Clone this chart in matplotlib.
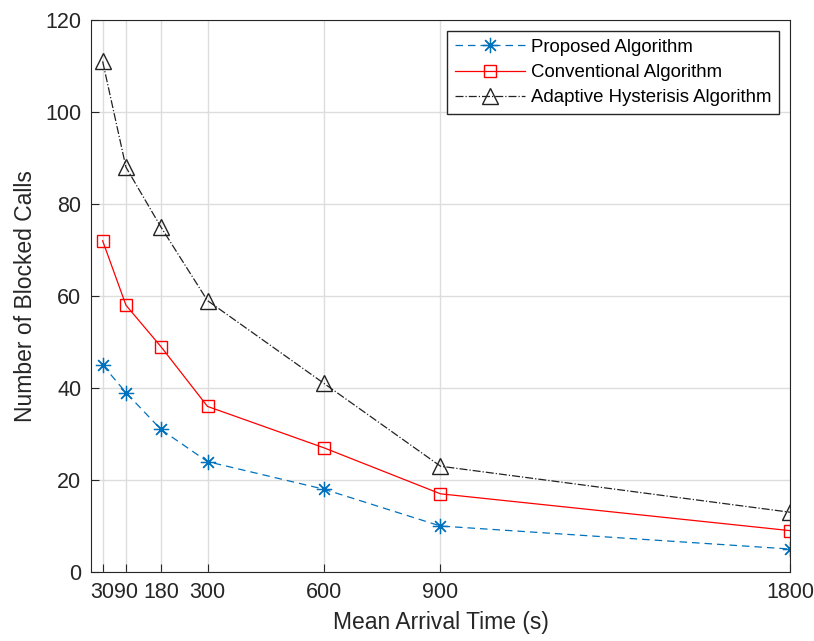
import matplotlib
matplotlib.use("Agg")
import matplotlib.pyplot as plt

plt.rcParams['font.family'] = ['Liberation Sans', 'DejaVu Sans']

arrival = [30, 90, 180, 300, 600, 900, 1800]
proposed = [45, 39, 31, 24, 18, 10, 5]
conventional = [72, 58, 49, 36, 27, 17, 9]
adaptive = [111, 88, 75, 59, 41, 23, 13]
yticks = [0, 20, 40, 60, 80, 100, 120]

fig = plt.figure(figsize=(8.14, 6.41), dpi=100)
ax = fig.add_axes([0.1118, 0.1076, 0.8587, 0.8612])

ax.plot(arrival, proposed, color='#0072BD', marker=(8, 2, 0), markersize=11,
        markeredgewidth=0.9, lw=0.9, label='Proposed Algorithm', dashes=(6, 4))
ax.plot(arrival, conventional, '-', color='red', marker='s', markersize=9,
        markerfacecolor='none', lw=0.9, label='Conventional Algorithm')
ax.plot(arrival, adaptive, '-.', color='#222222', marker='^', markersize=11,
        markerfacecolor='none', lw=0.9, label='Adaptive Hysterisis Algorithm')

ax.set_xlim(0, 1800)
ax.set_ylim(0, 120)
ax.set_xticks(arrival)
ax.set_yticks(yticks)
ax.tick_params(direction='in', labelsize=15.5, colors='#262626', length=6, pad=7)
ax.grid(True, color='#dddddd', lw=1)
ax.set_axisbelow(True)
for s in ax.spines.values():
    s.set_color('#262626')

ax.set_xlabel('Mean Arrival Time (s)', fontsize=16.5, color='#262626', labelpad=6)
ax.set_ylabel('Number of Blocked Calls', fontsize=16.5, color='#262626', labelpad=6)

leg = ax.legend(loc='upper right', fontsize=13.4, fancybox=False, framealpha=1,
                edgecolor='#262626', handlelength=3.8, handletextpad=0.3,
                labelspacing=0.45, borderaxespad=0.6)
leg.get_frame().set_linewidth(1)

fig.savefig('out.png', dpi=100)
